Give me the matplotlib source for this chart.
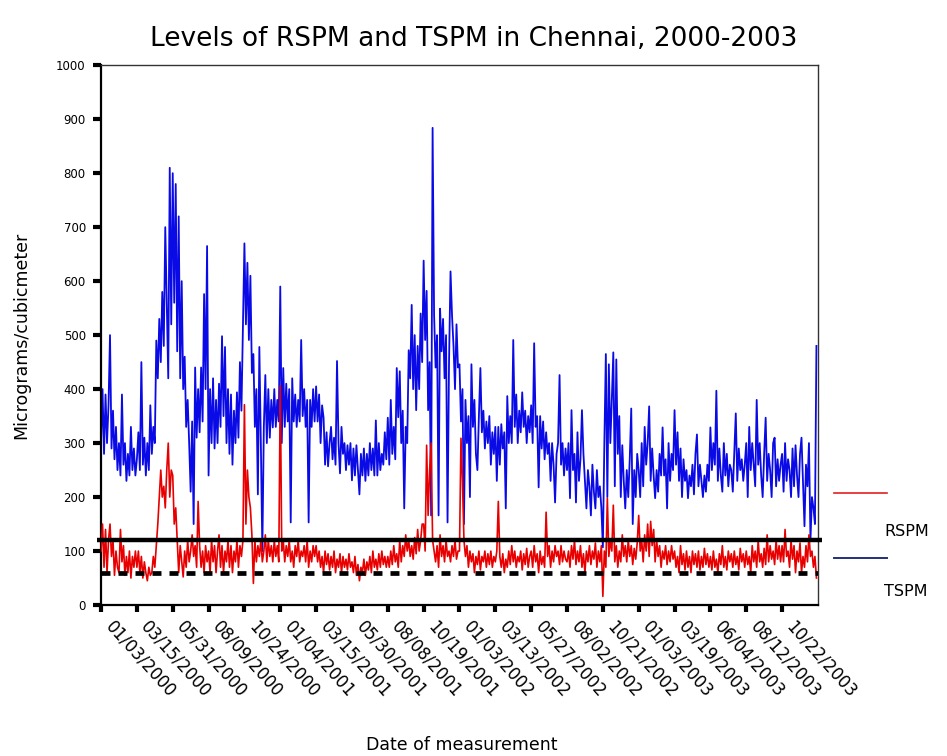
import numpy as np
import matplotlib
matplotlib.use("Agg")
import matplotlib.pyplot as plt
import matplotlib.transforms as mtransforms
from matplotlib.lines import Line2D

# TSPM readings, one row per tick interval (24 readings each)
tspm_rows = [
    [300, 400, 280, 390, 300, 370, 500, 290, 360, 270, 330, 250, 300, 240, 390, 260, 300, 230, 280, 240, 330, 250, 290, 240],
    [270, 320, 250, 450, 260, 310, 240, 300, 250, 370, 280, 330, 300, 490, 420, 530, 450, 580, 480, 700, 560, 420, 810, 520],
    [800, 560, 780, 470, 720, 420, 600, 400, 460, 330, 380, 300, 210, 340, 150, 440, 310, 400, 320, 440, 340, 576, 400, 665],
    [240, 400, 300, 420, 290, 380, 300, 410, 330, 498, 350, 478, 300, 400, 280, 390, 260, 360, 300, 394, 310, 450, 360, 520],
    [670, 520, 634, 491, 610, 430, 465, 330, 400, 205, 478, 300, 100, 330, 426, 300, 400, 310, 380, 329, 400, 330, 380, 340],
    [590, 300, 439, 330, 410, 340, 400, 153, 420, 340, 390, 330, 380, 340, 491, 350, 400, 330, 380, 153, 380, 330, 400, 340],
    [405, 340, 390, 300, 370, 347, 260, 320, 257, 300, 330, 270, 310, 260, 452, 300, 244, 330, 280, 300, 250, 296, 260, 300],
    [231, 290, 240, 296, 250, 205, 280, 240, 290, 230, 280, 240, 300, 250, 290, 240, 342, 240, 300, 250, 280, 260, 320, 270],
    [347, 260, 380, 280, 330, 270, 439, 348, 433, 300, 360, 179, 330, 300, 472, 420, 556, 400, 500, 361, 480, 400, 540, 450],
    [638, 491, 582, 361, 450, 166, 884, 537, 440, 500, 166, 549, 470, 530, 420, 500, 153, 450, 618, 537, 480, 400, 520, 440],
    [446, 340, 400, 150, 380, 300, 350, 200, 446, 330, 380, 280, 250, 350, 439, 320, 360, 290, 340, 300, 350, 260, 320, 280],
    [330, 230, 330, 260, 335, 290, 320, 179, 387, 300, 350, 300, 491, 330, 390, 300, 360, 320, 394, 330, 360, 300, 350, 320],
    [370, 300, 485, 330, 350, 218, 350, 290, 340, 270, 320, 280, 300, 230, 300, 260, 190, 280, 300, 426, 260, 300, 240, 290],
    [250, 300, 198, 361, 250, 280, 190, 320, 230, 270, 361, 280, 230, 179, 250, 220, 166, 260, 210, 179, 250, 200, 220, 180],
    [107, 300, 465, 200, 446, 300, 380, 468, 220, 455, 280, 350, 200, 296, 230, 179, 250, 200, 270, 364, 150, 250, 200, 280],
    [250, 200, 300, 220, 330, 260, 300, 368, 230, 290, 240, 198, 250, 210, 280, 240, 329, 240, 270, 179, 300, 230, 280, 250],
    [361, 260, 320, 230, 290, 200, 270, 230, 250, 198, 240, 220, 260, 205, 280, 316, 220, 260, 230, 200, 240, 210, 260, 230],
    [329, 250, 300, 260, 397, 230, 290, 240, 210, 300, 240, 280, 220, 260, 250, 210, 280, 355, 230, 290, 250, 270, 230, 260],
    [300, 200, 330, 250, 300, 260, 220, 380, 260, 300, 240, 200, 280, 347, 230, 280, 250, 200, 300, 310, 220, 270, 230, 260],
    [280, 210, 300, 230, 270, 250, 200, 290, 220, 296, 240, 200, 280, 310, 230, 146, 260, 220, 300, 120, 200, 180, 150, 480],
]

# RSPM readings, same layout
rspm_rows = [
    [100, 150, 70, 140, 60, 120, 150, 90, 120, 55, 100, 70, 60, 140, 80, 110, 55, 90, 60, 100, 50, 90, 70, 100],
    [70, 100, 60, 90, 50, 80, 60, 45, 70, 55, 60, 90, 70, 110, 150, 200, 250, 200, 220, 180, 250, 300, 200, 250],
    [240, 150, 180, 120, 60, 110, 80, 52, 100, 70, 120, 80, 100, 130, 90, 110, 70, 192, 110, 70, 100, 60, 110, 80],
    [100, 60, 120, 80, 110, 60, 100, 130, 70, 110, 60, 100, 80, 120, 70, 110, 60, 100, 80, 120, 70, 110, 90, 120],
    [371, 150, 250, 200, 180, 130, 40, 120, 80, 110, 90, 120, 80, 100, 130, 80, 120, 90, 110, 80, 120, 90, 110, 80],
    [406, 100, 120, 80, 110, 90, 120, 80, 100, 70, 110, 90, 120, 80, 100, 90, 110, 80, 120, 70, 100, 80, 110, 90],
    [110, 80, 100, 70, 90, 60, 100, 75, 95, 65, 90, 70, 100, 60, 85, 70, 95, 60, 90, 70, 85, 65, 95, 70],
    [80, 60, 90, 55, 75, 45, 70, 60, 85, 55, 80, 65, 90, 60, 100, 70, 85, 65, 95, 70, 100, 75, 90, 70],
    [90, 70, 100, 75, 110, 80, 95, 70, 120, 80, 110, 90, 130, 100, 120, 90, 110, 85, 125, 95, 140, 100, 120, 150],
    [150, 100, 296, 166, 250, 300, 120, 100, 80, 110, 70, 130, 90, 110, 80, 120, 90, 100, 80, 110, 90, 120, 85, 100],
    [100, 309, 231, 120, 90, 110, 70, 100, 80, 95, 60, 90, 75, 100, 65, 90, 80, 100, 70, 95, 75, 100, 70, 90],
    [80, 100, 192, 90, 70, 95, 60, 85, 70, 100, 75, 110, 80, 100, 70, 90, 80, 100, 65, 95, 75, 105, 70, 90],
    [100, 70, 110, 80, 95, 60, 100, 75, 90, 70, 172, 90, 110, 70, 100, 80, 110, 90, 100, 75, 110, 80, 100, 85],
    [80, 100, 70, 110, 85, 120, 75, 100, 80, 110, 70, 95, 60, 100, 80, 110, 75, 100, 85, 115, 70, 100, 80, 110],
    [16, 100, 70, 198, 90, 120, 100, 185, 80, 110, 70, 100, 80, 130, 90, 110, 80, 120, 90, 110, 75, 105, 85, 115],
    [166, 100, 120, 80, 130, 100, 150, 90, 155, 110, 140, 80, 120, 90, 110, 70, 100, 85, 110, 75, 100, 80, 110, 85],
    [100, 70, 90, 60, 110, 75, 95, 65, 100, 70, 90, 60, 100, 75, 95, 70, 100, 65, 90, 70, 105, 75, 95, 70],
    [90, 65, 100, 70, 85, 60, 95, 75, 110, 70, 90, 65, 100, 80, 95, 70, 100, 75, 90, 65, 105, 80, 95, 70],
    [100, 75, 90, 60, 110, 80, 100, 70, 120, 80, 95, 70, 105, 75, 130, 80, 110, 85, 100, 75, 120, 85, 110, 80],
    [110, 80, 140, 90, 100, 70, 120, 85, 110, 60, 100, 80, 115, 60, 90, 70, 110, 80, 130, 90, 100, 70, 90, 50],
]

date_labels = [
    "01/03/2000", "03/15/2000", "05/31/2000", "08/09/2000", "10/24/2000",
    "01/04/2001", "03/15/2001", "05/30/2001", "08/08/2001", "10/19/2001",
    "01/03/2002", "03/13/2002", "05/27/2002", "08/02/2002", "10/21/2002",
    "01/03/2003", "03/19/2003", "06/04/2003", "08/12/2003", "10/22/2003",
]

tspm_limit = 120
rspm_limit = 60

per_tick = 24
tspm = np.concatenate(tspm_rows)
rspm = np.concatenate(rspm_rows)
x = np.arange(len(tspm)) / per_tick

plt.rcParams['font.family'] = ['DejaVu Sans']

fig = plt.figure(figsize=(9.47, 7.56), dpi=100)
ax = fig.add_axes([0.1067, 0.1997, 0.757, 0.714])

ax.plot(x, tspm, color='#0a0ae6', lw=1.3, zorder=2)
ax.plot(x, rspm, color='#e80000', lw=1.2, zorder=3)

xmin, xmax = 0, len(date_labels)
ax.plot([xmin - 0.1, xmax + 0.1], [tspm_limit, tspm_limit], color='black',
        lw=3.2, solid_capstyle='butt', zorder=4, clip_on=False)
ax.plot([xmin, xmax], [rspm_limit, rspm_limit], color='black', lw=3.4,
        linestyle=(0, (1.9, 1.7)), dash_capstyle='butt', zorder=4)

ax.set_xlim(xmin, xmax)
ax.set_ylim(0, 1000)
ax.set_yticks(range(0, 1001, 100))
ax.set_xticks(np.arange(len(date_labels)))
ax.set_xticklabels(date_labels, rotation=-48, ha='left', va='top',
                   rotation_mode='anchor', fontsize=12)
for lab in ax.get_yticklabels():
    lab.set_fontsize(8.5)

ax.tick_params(axis='y', direction='out', length=6, width=3, pad=5)
ax.tick_params(axis='x', direction='out', length=5, width=3, pad=4)

# nudge the slanted date labels to start right of their ticks
shift = mtransforms.ScaledTranslation(14 / 100, 0, fig.dpi_scale_trans)
for lab in ax.get_xticklabels():
    lab.set_transform(lab.get_transform() + shift)

for side in ['left', 'bottom']:
    ax.spines[side].set_linewidth(1.6)
for side in ['top', 'right']:
    ax.spines[side].set_linewidth(1.0)
    ax.spines[side].set_color('#333333')

ax.set_ylabel("Micrograms/cubicmeter", fontsize=12.5, labelpad=19)
fig.text(0.488, 0.002, "Date of measurement", fontsize=12.5,
         ha='center', va='bottom')
fig.suptitle("Levels of RSPM and TSPM in Chennai, 2000-2003",
             fontsize=19, y=0.965, va='top')

# legend: colour sample above each series name
fig.add_artist(Line2D([834 / 947, 887 / 947], [1 - 493 / 756] * 2,
                      color='#e02020', lw=1.2))
fig.add_artist(Line2D([834 / 947, 887 / 947], [1 - 558 / 756] * 2,
                      color='#23307a', lw=1.4))
fig.text(884 / 947, 1 - 531 / 756, "RSPM", fontsize=11.5, va='center')
fig.text(884 / 947, 1 - 591 / 756, "TSPM", fontsize=11.5, va='center')

fig.savefig("out.png", dpi=100)
